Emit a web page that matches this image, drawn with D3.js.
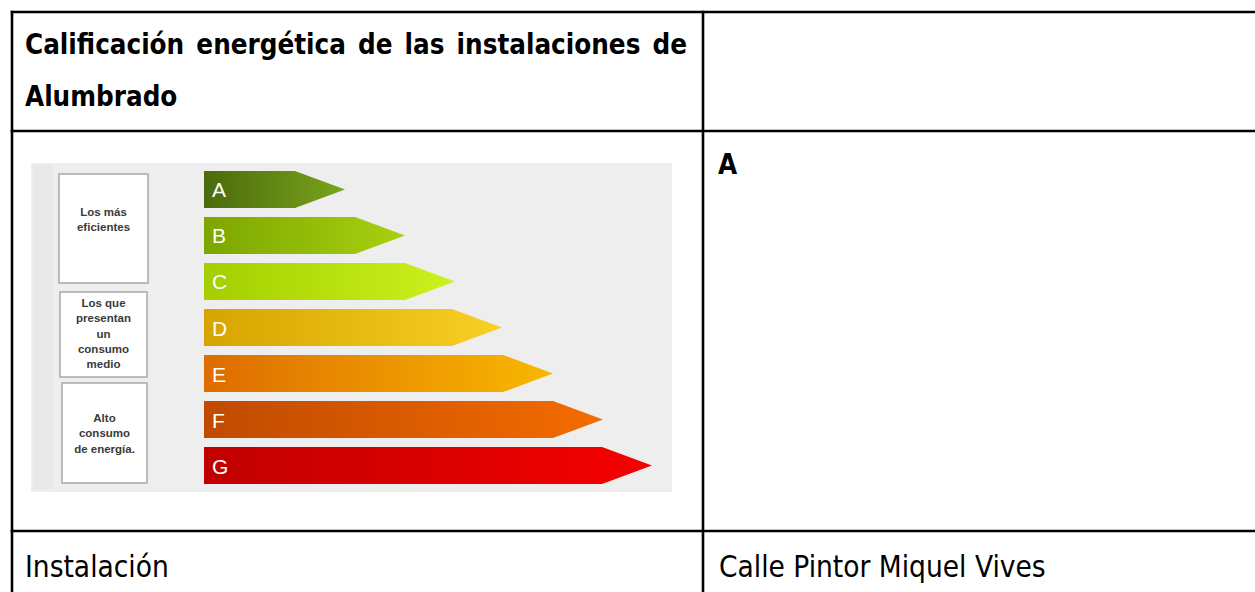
<!DOCTYPE html>
<html>
<head>
<meta charset="utf-8">
<script src="https://cdn.jsdelivr.net/npm/d3@7"></script>
<style>
  html, body { margin: 0; padding: 0; background: #ffffff; }
  svg { display: block; }
  .tbl { font-family: "DejaVu Sans Condensed", "DejaVu Sans", sans-serif; font-stretch: condensed; fill: #000; }
</style>
</head>
<body>
<svg id="chart" width="1255" height="592"></svg>
<script>
// ---- data ----
const grades = ["A", "B", "C", "D", "E", "F", "G"];
const barLengths = [141, 201, 251, 298, 349, 399, 448];
const colorsStart = ["#4a6a0c", "#7ca600", "#a4ce00", "#d6a400", "#de6c00", "#bf4a00", "#c00000"];
const colorsEnd   = ["#7aa41c", "#a8d010", "#ccf21e", "#f8d024", "#f8b800", "#f46c00", "#f60000"];
const groupLabels = [
  ["Los más", "eficientes"],
  ["Los que", "presentan", "un", "consumo", "medio"],
  ["Alto", "consumo", "de energía."]
];
const titleText = ["Calificación energética de las instalaciones de", "Alumbrado"];
const ratingValue = "A";
const rowLabel = "Instalación";
const rowValue = "Calle Pintor Miquel Vives";

const svg = d3.select("#chart");
const W = 1255, H = 592;

// ---- table grid ----
const grid = svg.append("g").attr("stroke", "#000").attr("stroke-width", 2.6);
[12, 131, 531].forEach(y => grid.append("line").attr("x1", 10.7).attr("x2", W).attr("y1", y).attr("y2", y));
[12, 703].forEach(x => grid.append("line").attr("x1", x).attr("x2", x).attr("y1", 10.7).attr("y2", H));

const FSB = 27.5, FSR = 29.5;
// title, justified over first line
const t1 = svg.append("text").attr("class", "tbl").attr("x", 25).attr("y", 54)
  .attr("font-size", FSB).attr("font-weight", "bold").text(titleText[0]);
const natural = t1.node().getComputedTextLength();
const spaces = (titleText[0].match(/ /g) || []).length;
t1.attr("word-spacing", ((687 - 25) - natural) / spaces);
svg.append("text").attr("class", "tbl").attr("x", 25).attr("y", 106)
  .attr("font-size", FSB).attr("font-weight", "bold").text(titleText[1]);
svg.append("text").attr("class", "tbl").attr("x", 718).attr("y", 174)
  .attr("font-size", FSB).attr("font-weight", "bold").text(ratingValue);
svg.append("text").attr("class", "tbl").attr("x", 25).attr("y", 577).attr("font-size", FSR).text(rowLabel);
svg.append("text").attr("class", "tbl").attr("x", 719).attr("y", 577).attr("font-size", FSR).text(rowValue);

// ---- energy label panel ----
const panel = svg.append("g");
panel.append("rect").attr("x", 31).attr("y", 163).attr("width", 641).attr("height", 329).attr("fill", "#eeeeee");
panel.append("rect").attr("x", 33).attr("y", 165).attr("width", 20).attr("height", 325).attr("fill", "#e9e9e9");

const y = d3.scaleBand().domain(grades).range([171, 484]).paddingInner(0.196).paddingOuter(0);
const x = d3.scaleLinear().domain([0, 448]).range([204, 652]);
const tip = 50;

const defs = svg.append("defs");
grades.forEach((g, i) => {
  const lg = defs.append("linearGradient").attr("id", "grad" + g)
    .attr("x1", "0%").attr("x2", "100%").attr("y1", "0%").attr("y2", "0%");
  lg.append("stop").attr("offset", "0%").attr("stop-color", colorsStart[i]);
  lg.append("stop").attr("offset", "100%").attr("stop-color", colorsEnd[i]);
});

const bars = panel.selectAll("g.bar").data(grades).join("g").attr("class", "bar");
bars.append("path")
  .attr("d", (g, i) => {
    const x0 = x(0), x1 = x(barLengths[i]);
    const y0 = y(g), y1 = y(g) + y.bandwidth(), ym = (y0 + y1) / 2;
    return `M${x0},${y0} L${x1 - tip},${y0} L${x1},${ym} L${x1 - tip},${y1} L${x0},${y1} Z`;
  })
  .attr("fill", g => `url(#grad${g})`);
bars.append("text")
  .attr("x", x(0) + 8)
  .attr("y", g => y(g) + y.bandwidth() / 2 + 8)
  .attr("fill", "#ffffff")
  .attr("font-family", "Liberation Sans, Arial, sans-serif")
  .attr("font-size", 21)
  .text(g => g);

// group boxes
const boxes = [
  {x: 59, y: 174, w: 89, h: 109, first: 212},
  {x: 60, y: 292, w: 87, h: 85, first: 303},
  {x: 62, y: 383, w: 85, h: 100, first: 418}
];
boxes.forEach((b, i) => {
  panel.append("rect").attr("x", b.x).attr("y", b.y).attr("width", b.w).attr("height", b.h)
    .attr("fill", "#ffffff").attr("stroke", "#a8a8a8").attr("stroke-width", 1.5);
  panel.append("text")
    .attr("font-family", "Liberation Sans, Arial, sans-serif")
    .attr("font-size", 11.5).attr("font-weight", "bold").attr("fill", "#3a3a3a")
    .attr("text-anchor", "middle")
    .selectAll("tspan").data(groupLabels[i]).join("tspan")
    .attr("x", b.x + b.w / 2)
    .attr("y", (d, j) => b.first + 4 + j * 15.3)
    .text(d => d);
});
</script>
</body>
</html>
